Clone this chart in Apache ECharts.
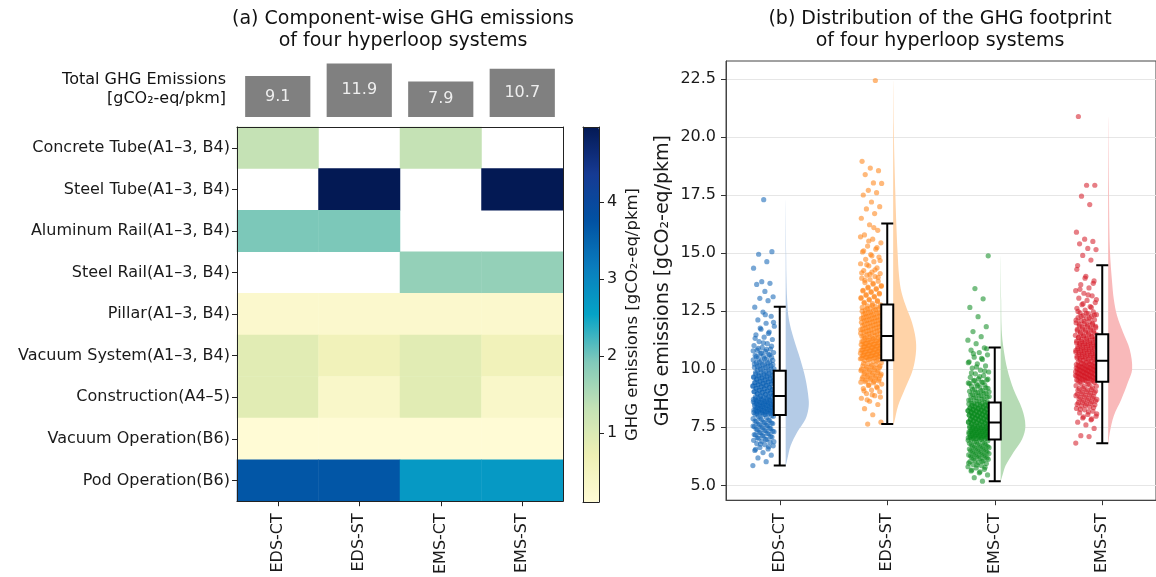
<!DOCTYPE html>
<html><head><meta charset="utf-8">
<script src="https://cdn.jsdelivr.net/npm/echarts@6/dist/echarts.min.js"></script>
<style>html,body{margin:0;padding:0;background:#fff}#c{width:1156px;height:577px}</style>
</head><body><div id="c"></div><script>
// ---------------- data ----------------
const systems = ['EDS-CT', 'EDS-ST', 'EMS-CT', 'EMS-ST'];
const components = ['Concrete Tube(A1–3, B4)', 'Steel Tube(A1–3, B4)', 'Aluminum Rail(A1–3, B4)',
  'Steel Rail(A1–3, B4)', 'Pillar(A1–3, B4)', 'Vacuum System(A1–3, B4)', 'Construction(A4–5)',
  'Vacuum Operation(B6)', 'Pod Operation(B6)'];
const totalEmissions = [9.1, 11.9, 7.9, 10.7];

// component emissions per system [EDS-CT, EDS-ST, EMS-CT, EMS-ST]; null = not used
const concreteTube    = [1.30, null, 1.30, null];
const steelTube       = [null, 4.98, null, 4.98];
const aluminumRail    = [1.95, 1.95, null, null];
const steelRail       = [null, null, 1.75, 1.75];
const pillar          = [0.25, 0.25, 0.25, 0.25];
const vacuumSystem    = [0.90, 0.60, 0.90, 0.60];
const construction    = [0.90, 0.32, 0.90, 0.32];
const vacuumOperation = [0.10, 0.10, 0.10, 0.10];
const podOperation    = [3.70, 3.70, 2.70, 2.70];
const componentRows = [concreteTube, steelTube, aluminumRail, steelRail, pillar,
  vacuumSystem, construction, vacuumOperation, podOperation];
const colorbarMin = 0.1, colorbarMax = 4.98;
const colorbarTicks = [1, 2, 3, 4];

// Monte-Carlo samples (gCO2-eq/pkm), estimated from the scatter clouds
const edsCtSamples = [5.85, 6.02, 6.18, 6.3, 6.41, 6.5, 6.57, 6.63, 6.7, 6.75, 6.8, 6.86, 6.9, 6.94, 6.98,
  7.03, 7.08, 7.12, 7.17, 7.21, 7.26, 7.31, 7.35, 7.39, 7.44, 7.48, 7.53, 7.57, 7.61, 7.66, 7.7, 7.74, 7.79, 7.83, 7.87, 7.92, 7.96, 8.0,
  8.04, 8.06, 8.08, 8.11, 8.13, 8.15, 8.17, 8.2, 8.22, 8.24, 8.26, 8.28, 8.31, 8.33, 8.35, 8.37, 8.39, 8.42, 8.44, 8.46,
  8.48, 8.5, 8.53, 8.55, 8.57, 8.59, 8.61, 8.64, 8.66, 8.68, 8.7, 8.72, 8.75, 8.77, 8.79, 8.81, 8.83,
  8.86, 8.89, 8.92, 8.95, 8.98, 9.01, 9.04, 9.06, 9.09, 9.12, 9.15, 9.18, 9.21, 9.24, 9.27, 9.3, 9.33, 9.36, 9.38,
  9.41, 9.44, 9.47, 9.5, 9.53, 9.56, 9.59, 9.62, 9.65, 9.68, 9.7, 9.73, 9.76, 9.79, 9.82, 9.85, 9.88, 9.91,
  9.96, 10.0, 10.04, 10.08, 10.12, 10.16, 10.2, 10.24, 10.28, 10.32, 10.36, 10.4, 10.44, 10.48, 10.52, 10.56, 10.6, 10.64, 10.68, 10.72, 10.77, 10.82, 10.87,
  10.94, 11.02, 11.1, 11.19, 11.28, 11.38, 11.48, 11.6, 11.72, 11.85, 11.98, 12.12, 12.28, 12.46, 12.67,
  12.95, 13.05, 13.12, 13.35, 13.65, 13.7, 13.77, 14.35, 14.63, 14.95, 15.06, 17.3,
  6.55, 6.66, 6.78, 6.88, 6.97, 7.05, 7.1, 7.14, 7.19, 7.24, 7.28, 7.33, 7.37, 7.42, 7.46, 7.51, 7.55, 7.59, 7.64, 7.68, 7.72, 7.77, 7.81, 7.89, 7.97,
  8.05, 8.07, 8.1, 8.12, 8.14, 8.16, 8.19, 8.21, 8.23, 8.25, 8.27, 8.3, 8.32, 8.34, 8.36, 8.38, 8.41, 8.43, 8.45, 8.47, 8.49, 8.52, 8.54, 8.56, 8.58, 8.6, 8.63, 8.65, 8.67, 8.71, 8.74, 8.78, 8.82,
  8.88, 8.91, 8.94, 8.97, 9.0, 9.03, 9.07, 9.1, 9.13, 9.16, 9.19, 9.22, 9.25, 9.28, 9.31, 9.34, 9.37, 9.4, 9.43, 9.46, 9.49, 9.52, 9.55, 9.58, 9.61, 9.64, 9.67, 9.72, 9.75, 9.78, 9.83, 9.87, 9.92,
  9.98, 10.02, 10.06, 10.1, 10.14, 10.18, 10.22, 10.26, 10.3, 10.38, 10.46, 10.54, 10.62, 10.7, 10.79, 10.85, 10.9, 10.99,
  11.14, 11.33, 11.54, 11.77, 12.02, 12.35];
const edsStSamples = [7.64, 7.72, 8.04, 8.3, 8.48, 8.62, 8.75, 8.86, 8.95, 9.03, 9.1, 9.17, 9.24, 9.3, 9.36,
  9.42, 9.46, 9.5, 9.55, 9.59, 9.63, 9.68, 9.72, 9.76, 9.81, 9.85, 9.89, 9.94, 9.98, 10.02, 10.07, 10.11, 10.15, 10.2, 10.24, 10.28, 10.33, 10.37,
  10.41, 10.44, 10.47, 10.5, 10.52, 10.55, 10.58, 10.61, 10.64, 10.66, 10.69, 10.72, 10.75, 10.78, 10.8, 10.83, 10.86, 10.89, 10.92,
  10.94, 10.97, 11.0, 11.03, 11.06, 11.08, 11.11, 11.14, 11.17, 11.2, 11.22, 11.25, 11.28, 11.31, 11.34, 11.36, 11.39, 11.42,
  11.45, 11.49, 11.53, 11.56, 11.6, 11.64, 11.67, 11.71, 11.75, 11.78, 11.82, 11.86, 11.89, 11.93, 11.97, 12.0, 12.04, 12.08, 12.11,
  12.15, 12.19, 12.22, 12.26, 12.3, 12.33, 12.37, 12.41, 12.44, 12.48, 12.52, 12.55, 12.59, 12.63, 12.66, 12.7, 12.73, 12.77,
  12.82, 12.88, 12.95, 13.01, 13.08, 13.14, 13.21, 13.27, 13.34, 13.4, 13.47, 13.53, 13.6, 13.66, 13.73, 13.79, 13.86, 13.92, 13.99, 14.05, 14.12, 14.18, 14.25,
  14.36, 14.45, 14.54, 14.63, 14.73, 14.83, 14.94, 15.05, 15.17, 15.3, 15.44, 15.6, 15.78, 15.98, 16.22,
  16.5, 16.7, 16.9, 17.0, 17.2, 17.5, 17.6, 17.7, 18.0, 18.02, 18.38, 18.55, 18.66, 18.95, 22.43,
  8.68, 8.8, 8.9, 9.07, 9.2, 9.33, 9.44, 9.48, 9.53, 9.57, 9.61, 9.66, 9.7, 9.74, 9.79, 9.83, 9.87, 9.92, 9.96, 10.0, 10.05, 10.09, 10.13, 10.18, 10.26, 10.35,
  10.42, 10.45, 10.48, 10.51, 10.54, 10.56, 10.59, 10.62, 10.65, 10.68, 10.7, 10.73, 10.76, 10.79, 10.82, 10.85, 10.88, 10.9, 10.93, 10.96, 10.99, 11.02, 11.05, 11.07, 11.1, 11.13, 11.16, 11.19, 11.24, 11.27, 11.3, 11.35, 11.4,
  11.47, 11.51, 11.55, 11.58, 11.62, 11.66, 11.69, 11.73, 11.77, 11.8, 11.84, 11.88, 11.91, 11.95, 11.99, 12.02, 12.06, 12.1, 12.13, 12.17, 12.21, 12.24, 12.28, 12.32, 12.35, 12.39, 12.43, 12.46, 12.5, 12.57, 12.61, 12.68, 12.75,
  12.85, 12.92, 12.98, 13.05, 13.11, 13.18, 13.24, 13.31, 13.37, 13.44, 13.5, 13.57, 13.7, 13.83, 13.96, 14.08, 14.15, 14.28,
  14.5, 14.68, 14.88, 15.1, 15.24, 15.52, 15.7, 16.1];
const emsCtSamples = [5.18, 5.33, 5.45, 5.54, 5.62, 5.69, 5.75, 5.8, 5.85, 5.9, 5.94, 5.98, 6.02, 6.05, 6.08,
  6.12, 6.16, 6.2, 6.24, 6.27, 6.31, 6.35, 6.39, 6.43, 6.46, 6.5, 6.54, 6.58, 6.62, 6.65, 6.69, 6.73, 6.77, 6.81, 6.84, 6.88, 6.92, 6.95,
  6.98, 7.0, 7.02, 7.04, 7.06, 7.08, 7.1, 7.12, 7.14, 7.16, 7.18, 7.2, 7.22, 7.24, 7.26, 7.28, 7.3, 7.32, 7.34,
  7.36, 7.38, 7.4, 7.42, 7.44, 7.46, 7.48, 7.5, 7.52, 7.54, 7.56, 7.58, 7.6, 7.62, 7.64, 7.66, 7.68, 7.7,
  7.72, 7.74, 7.77, 7.79, 7.81, 7.84, 7.86, 7.88, 7.91, 7.93, 7.95, 7.98, 8.0, 8.02, 8.05, 8.07, 8.09, 8.12, 8.14,
  8.16, 8.19, 8.21, 8.23, 8.26, 8.28, 8.3, 8.33, 8.35, 8.37, 8.4, 8.42, 8.44, 8.47, 8.49, 8.51, 8.53, 8.55,
  8.6, 8.64, 8.69, 8.73, 8.78, 8.82, 8.87, 8.91, 8.96, 9.0, 9.05, 9.09, 9.14, 9.18, 9.23, 9.27, 9.32, 9.36, 9.41, 9.45, 9.5, 9.54, 9.58,
  9.65, 9.72, 9.8, 9.88, 9.96, 10.05, 10.14, 10.23, 10.32, 10.42, 10.52, 10.62, 10.72, 10.82, 10.92,
  11.1, 11.25, 11.4, 11.62, 11.83, 12.26, 12.66, 13.03, 13.47, 14.88,
  5.58, 5.66, 5.78, 5.88, 5.96, 6.04, 6.14, 6.18, 6.22, 6.26, 6.29, 6.33, 6.37, 6.41, 6.45, 6.48, 6.52, 6.56, 6.6, 6.64, 6.67, 6.71, 6.75, 6.79, 6.86, 6.94,
  6.99, 7.01, 7.03, 7.05, 7.07, 7.09, 7.11, 7.13, 7.15, 7.17, 7.19, 7.21, 7.23, 7.25, 7.27, 7.29, 7.31, 7.33, 7.35, 7.37, 7.39, 7.41, 7.43, 7.45, 7.47, 7.49, 7.51, 7.53, 7.57, 7.61, 7.63, 7.67, 7.69,
  7.73, 7.76, 7.78, 7.8, 7.83, 7.85, 7.87, 7.9, 7.92, 7.94, 7.97, 7.99, 8.01, 8.04, 8.06, 8.08, 8.11, 8.13, 8.15, 8.18, 8.2, 8.22, 8.25, 8.27, 8.29, 8.32, 8.34, 8.38, 8.41, 8.45, 8.48, 8.52, 8.56,
  8.62, 8.67, 8.71, 8.76, 8.8, 8.85, 8.89, 8.94, 8.98, 9.03, 9.07, 9.12, 9.2, 9.29, 9.38, 9.43, 9.52, 9.57,
  9.68, 9.84, 9.92, 10.1, 10.28, 10.47, 10.67, 10.88];
const emsStSamples = [6.82, 7.1, 7.14, 7.45, 7.6, 7.72, 7.82, 7.9, 7.98, 8.05, 8.12, 8.19, 8.25, 8.31, 8.37,
  8.42, 8.47, 8.51, 8.56, 8.6, 8.65, 8.7, 8.74, 8.79, 8.83, 8.88, 8.93, 8.97, 9.02, 9.06, 9.11, 9.16, 9.2, 9.25, 9.29, 9.34, 9.38, 9.43,
  9.48, 9.5, 9.53, 9.55, 9.58, 9.6, 9.62, 9.65, 9.67, 9.7, 9.72, 9.74, 9.77, 9.79, 9.82, 9.84, 9.86, 9.89, 9.91,
  9.94, 9.96, 9.98, 10.01, 10.03, 10.06, 10.08, 10.1, 10.13, 10.15, 10.18, 10.2, 10.22, 10.25, 10.27, 10.3, 10.32, 10.34,
  10.38, 10.41, 10.44, 10.47, 10.5, 10.53, 10.56, 10.6, 10.63, 10.66, 10.69, 10.72, 10.75, 10.78, 10.81, 10.84, 10.87, 10.9, 10.94,
  10.97, 11.0, 11.03, 11.06, 11.09, 11.12, 11.15, 11.18, 11.21, 11.24, 11.28, 11.31, 11.34, 11.37, 11.4, 11.43, 11.46, 11.49,
  11.53, 11.57, 11.61, 11.66, 11.7, 11.74, 11.79, 11.83, 11.87, 11.92, 11.96, 12.0, 12.05, 12.09, 12.13, 12.18, 12.22, 12.26, 12.31, 12.35, 12.39, 12.43, 12.47,
  12.55, 12.62, 12.7, 12.78, 12.87, 12.96, 13.06, 13.16, 13.27, 13.38, 13.5, 13.64, 13.8, 14.0, 14.46,
  14.7, 14.9, 15.15, 15.2, 15.4, 15.5, 15.6, 15.9, 17.09, 17.45, 17.92, 17.92, 20.88,
  7.86, 7.95, 8.08, 8.16, 8.28, 8.35, 8.44, 8.49, 8.53, 8.58, 8.63, 8.67, 8.72, 8.76, 8.81, 8.86, 8.9, 8.95, 8.99, 9.04, 9.09, 9.13, 9.18, 9.27, 9.36, 9.45,
  9.49, 9.52, 9.54, 9.57, 9.59, 9.61, 9.64, 9.66, 9.69, 9.71, 9.73, 9.76, 9.78, 9.81, 9.83, 9.85, 9.88, 9.9, 9.93, 9.95, 9.97, 10.0, 10.02, 10.05, 10.07, 10.09, 10.12, 10.14, 10.17, 10.21, 10.24, 10.29, 10.33,
  10.4, 10.43, 10.46, 10.49, 10.52, 10.55, 10.58, 10.61, 10.64, 10.67, 10.7, 10.74, 10.77, 10.8, 10.83, 10.86, 10.89, 10.92, 10.95, 10.99, 11.02, 11.05, 11.08, 11.11, 11.14, 11.17, 11.2, 11.26, 11.3, 11.35, 11.39, 11.44, 11.48,
  11.55, 11.59, 11.64, 11.68, 11.72, 11.77, 11.81, 11.85, 11.9, 11.94, 11.98, 12.07, 12.11, 12.2, 12.28, 12.33, 12.41, 12.49,
  12.66, 12.82, 13.0, 13.2, 13.44, 13.7, 13.92, 14.3];
const sampleSets = [edsCtSamples, edsStSamples, emsCtSamples, emsStSamples];

// box statistics [lower whisker, Q1, median, Q3, upper whisker]
const edsCtBox = [5.85, 8.03, 8.85, 9.93, 12.69];
const edsStBox = [7.64, 10.39, 11.43, 12.79, 16.27];
const emsCtBox = [5.18, 6.97, 7.71, 8.57, 10.93];
const emsStBox = [6.81, 9.46, 10.36, 11.50, 14.48];

// half-violin density outlines [value, relative density]
const edsCtViolin = [[5.85,0],[6.14,0.07],[6.7,0.2],[7.3,0.47],[7.85,0.8],[8.3,0.92],[8.7,0.93],[9.6,0.8],[10.4,0.6],[11.3,0.33],[12.15,0.13],[13.0,0.06],[14.0,0.03],[15.0,0.02],[17.3,0]];
const edsStViolin = [[7.64,0],[7.71,0.04],[8.43,0.2],[9.14,0.47],[10.0,0.8],[10.86,0.93],[11.5,0.88],[12.15,0.72],[12.58,0.56],[13.3,0.34],[14.0,0.24],[15.0,0.18],[16.2,0.13],[17.5,0.09],[19.0,0.05],[20.5,0.024],[22.43,0]];
const emsCtViolin = [[5.18,0],[5.42,0.07],[5.85,0.2],[6.43,0.52],[7.0,0.87],[7.57,1.0],[8.28,0.87],[9.14,0.52],[10.0,0.27],[10.86,0.12],[11.7,0.04],[13.0,0.02],[14.88,0]];
const emsStViolin = [[6.81,0],[7.3,0.07],[8.0,0.23],[8.7,0.53],[9.44,0.8],[10.0,0.97],[10.86,0.87],[11.59,0.6],[12.3,0.36],[13.0,0.23],[13.73,0.16],[15.14,0.07],[18.0,0.03],[20.88,0]];
const violinSets = [edsCtViolin, edsStViolin, emsCtViolin, emsStViolin];

const yTicksRight = [5, 7.5, 10, 12.5, 15, 17.5, 20, 22.5];

// ---------------- styling ----------------
const FONT = 'DejaVu Sans';
const pointColors = ['#0a5fb2', '#ff7f0e', '#08891c', '#d41420'];
const violinColors = ['#b4cbe6', '#ffd3a8', '#b6dbb5', '#f9b9ba'];
const heatColors = ['#fffbd5', '#eef0b4', '#c4e2b5', '#80c9b9', '#05a3c6', '#0a7dbd', '#0152a3', '#163a93', '#031954'];
const VIOLIN_SCALE = 0.23, VIOLIN_OFFSET = 0.055, JITTER_CENTER = -0.15, JITTER_HALF = 0.1;

const heatData = [];
componentRows.forEach((row, r) => row.forEach((v, c) => { if (v !== null) heatData.push([c, r, v]); }));

function jitter(k) { const f = (k * 0.6180339887) % 1; return JITTER_CENTER + (f * 2 - 1) * JITTER_HALF; }

const lineOnly = (extra) => Object.assign({
  axisLine: { show: true, onZero: false, lineStyle: { color: '#222', width: 1 } },
  axisTick: { show: false }, axisLabel: { show: false }, splitLine: { show: false }, z: 10
}, extra);

const scatterSeries = sampleSets.map((arr, g) => ({
  type: 'scatter', xAxisIndex: 6, yAxisIndex: 5, silent: true, z: 2,
  symbolSize: 5.2,
  itemStyle: { color: pointColors[g], opacity: 0.55 },
  data: arr.map((v, k) => [g + jitter(k + g * 41), v])
}));

const txt = (x, y, text, size, align) => ({ type: 'text', x, y, silent: true,
  style: { text, fill: '#111', font: size + 'px "DejaVu Sans"', textAlign: align, textVerticalAlign: 'middle' } });

const option = {
  animation: false,
  backgroundColor: '#fff',
  textStyle: { fontFamily: FONT },
  grid: [
    { left: 237, top: 63, width: 326, height: 54 },
    { left: 237, top: 127, width: 326, height: 375 },
    { left: 583, top: 127, width: 16, height: 375 },
    { left: 726, top: 61, width: 435, height: 441, show: true, borderColor: '#444', borderWidth: 1 }
  ],
  xAxis: [
    { type: 'category', gridIndex: 0, data: systems, show: false },
    { type: 'category', gridIndex: 1, data: systems, position: 'bottom',
      axisLine: { show: true, onZero: false, lineStyle: { color: '#222' } },
      axisTick: { show: true, alignWithLabel: true, length: 5, lineStyle: { color: '#222' } },
      axisLabel: { rotate: 90, fontSize: 16, color: '#1a1a1a', margin: 12, fontFamily: FONT }, z: 10 },
    lineOnly({ type: 'category', gridIndex: 1, data: systems, position: 'top' }),
    lineOnly({ type: 'value', gridIndex: 2, min: 0, max: 1, position: 'bottom' }),
    lineOnly({ type: 'value', gridIndex: 2, min: 0, max: 1, position: 'top' }),
    { type: 'category', gridIndex: 3, data: systems, position: 'bottom',
      axisLine: { show: true, onZero: false, lineStyle: { color: '#444' } },
      axisTick: { show: true, alignWithLabel: true, length: 5, lineStyle: { color: '#333' } },
      axisLabel: { rotate: 90, fontSize: 16, color: '#1a1a1a', margin: 13, fontFamily: FONT } },
    { type: 'value', gridIndex: 3, min: -0.5, max: 3.5, show: false }
  ],
  yAxis: [
    { type: 'value', gridIndex: 0, min: 0, max: 12, show: false },
    { type: 'category', gridIndex: 1, data: components, inverse: true, position: 'left',
      axisLine: { show: true, onZero: false, lineStyle: { color: '#222' } },
      axisTick: { show: true, alignWithLabel: true, length: 5, lineStyle: { color: '#222' } },
      axisLabel: { fontSize: 16, color: '#1a1a1a', margin: 7, fontFamily: FONT }, z: 10 },
    lineOnly({ type: 'category', gridIndex: 1, data: components, inverse: true, position: 'right' }),
    { type: 'value', gridIndex: 2, min: colorbarMin, max: colorbarMax, position: 'right', z: 10,
      axisLine: { show: true, onZero: false, lineStyle: { color: '#222' } },
      axisTick: { show: true, length: 5, customValues: colorbarTicks, lineStyle: { color: '#222' } },
      axisLabel: { fontSize: 16, color: '#1a1a1a', margin: 8, customValues: colorbarTicks, fontFamily: FONT },
      splitLine: { show: false },
      name: 'GHG emissions [gCO₂-eq/pkm]', nameLocation: 'middle', nameRotate: 90, nameGap: 25,
      nameTextStyle: { fontSize: 16.5, color: '#1a1a1a', fontFamily: FONT } },
    lineOnly({ type: 'value', gridIndex: 2, min: 0, max: 1, position: 'left' }),
    { type: 'value', gridIndex: 3, min: 4.36, max: 23.27, position: 'left',
      axisLine: { show: true, onZero: false, lineStyle: { color: '#444' } },
      axisTick: { show: true, length: 5, customValues: yTicksRight, lineStyle: { color: '#333' } },
      axisLabel: { fontSize: 16, color: '#1a1a1a', margin: 10, customValues: yTicksRight,
        formatter: v => Number(v).toFixed(1), fontFamily: FONT },
      splitLine: { show: true, lineStyle: { color: '#e6e6e6', width: 1.2 } },
      name: 'GHG emissions [gCO₂-eq/pkm]', nameLocation: 'middle', nameGap: 53,
      nameTextStyle: { fontSize: 19, color: '#1a1a1a', fontFamily: FONT } }
  ],
  visualMap: {
    type: 'continuous', seriesIndex: 1, dimension: 2, min: colorbarMin, max: colorbarMax,
    orient: 'vertical', left: 583, top: 127, itemWidth: 16, itemHeight: 375, padding: 0,
    calculable: false, realtime: false, hoverLink: false, text: ['', ''], textGap: 0,
    inRange: { color: heatColors }, z: 4
  },
  graphic: [
    txt(403, 19, '(a) Component-wise GHG emissions', 19, 'center'),
    txt(403, 41, 'of four hyperloop systems', 19, 'center'),
    txt(940, 19, '(b) Distribution of the GHG footprint', 19, 'center'),
    txt(940, 41, 'of four hyperloop systems', 19, 'center'),
    txt(226, 80, 'Total GHG Emissions', 16, 'right'),
    txt(226, 99, '[gCO₂-eq/pkm]', 16, 'right')
  ],
  series: [
    { type: 'bar', xAxisIndex: 0, yAxisIndex: 0, data: totalEmissions, barWidth: '80%', silent: true,
      itemStyle: { color: '#808080' },
      label: { show: true, position: 'inside', color: '#eeeeee', fontSize: 16, fontFamily: FONT } },
    { type: 'heatmap', xAxisIndex: 1, yAxisIndex: 1, data: heatData, silent: true,
      itemStyle: { borderWidth: 0 } },
    ...scatterSeries,
    { type: 'custom', xAxisIndex: 6, yAxisIndex: 5, silent: true, z: 2,
      data: systems.map((s, g) => [g]),
      renderItem: (params, api) => {
        const g = api.value(0);
        const prof = violinSets[g];
        const x0 = g + VIOLIN_OFFSET;
        const pts = prof.map(([v, d]) => api.coord([x0 + d * VIOLIN_SCALE, v]));
        for (let i = prof.length - 2; i >= 1; i--) pts.push(api.coord([x0, prof[i][0]]));
        return { type: 'polygon', shape: { points: pts, smooth: 0.35 },
          style: { fill: violinColors[g], stroke: null } };
      } },
    { type: 'boxplot', xAxisIndex: 5, yAxisIndex: 5, silent: true, z: 5,
      data: [edsCtBox, edsStBox, emsCtBox, emsStBox], boxWidth: [12, 12],
      itemStyle: { color: '#ffffff', borderColor: '#000', borderWidth: 2 } }
  ]
};
const chart = echarts.init(document.getElementById('c'), null, { renderer: 'canvas' });
chart.setOption(option);
</script></body></html>
